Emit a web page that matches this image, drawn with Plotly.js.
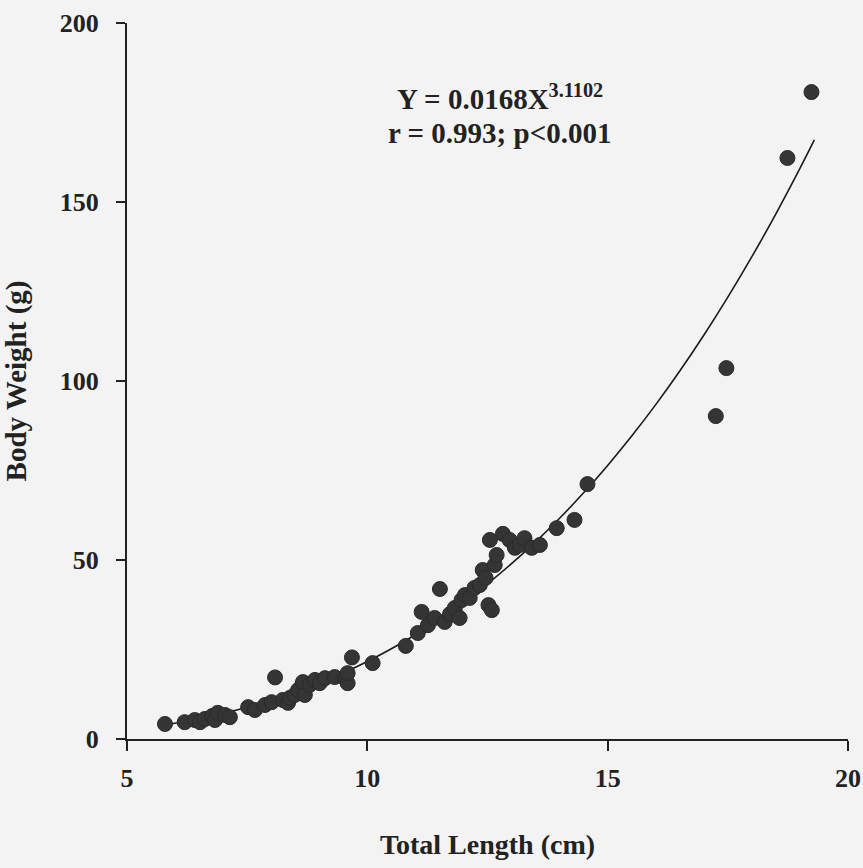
<!DOCTYPE html>
<html>
<head>
<meta charset="utf-8">
<script src="https://cdn.plot.ly/plotly-3.0.1.min.js"></script>
<style>html,body{margin:0;padding:0;background:#f3f3f3;}#chart{width:863px;height:868px;}</style>
</head>
<body>
<div id="chart"></div>
<script>
// Observed fish: total length (cm) and body weight (g)
const lengthCm = [5.79,6.2,6.41,6.52,6.62,6.77,6.83,6.89,7.04,7.14,7.52,7.66,7.87,8.01,8.08,8.24,8.35,8.39,8.49,8.56,8.66,8.70,8.80,8.91,9.01,9.12,9.32,9.53,9.59,9.59,9.68,10.11,10.80,11.05,11.13,11.26,11.40,11.51,11.61,11.72,11.82,11.92,11.96,12.03,12.13,12.23,12.34,12.40,12.46,12.52,12.59,12.55,12.65,12.69,12.82,12.96,13.07,13.17,13.27,13.42,13.59,13.94,14.31,14.58,17.25,17.47,18.74,19.24];
const bodyWeightG = [4.2,4.7,5.3,4.7,5.6,6.4,5.3,7.3,6.7,6.1,8.9,8.1,9.5,10.3,17.2,10.9,10.1,11.5,12.3,13.7,15.9,12.3,15.1,16.5,15.6,17.0,17.3,17.0,15.6,18.4,22.8,21.2,26.0,29.6,35.5,31.8,33.8,41.9,32.7,34.9,36.6,33.8,38.8,40.2,39.4,42.2,43.0,47.2,45.0,37.4,36.0,55.6,48.6,51.4,57.3,55.6,53.4,54.2,56.1,53.4,54.2,58.9,61.2,71.2,90.2,103.6,162.3,180.7];

// Fitted power curve Y = a * X^b, as printed on the chart
const fitA = 0.0168;
const fitB = 3.1102;
const fitX = [5.8,6.5,7,7.5,8,8.5,9,9.5,10,10.5,11,11.5,12,12.5,13,13.5,14,14.5,15,15.5,16,16.5,17,17.5,18,18.5,19,19.3];
const fitY = fitX.map(x => fitA * Math.pow(x, fitB));

const xTicks = [5,10,15,20];
const yTicks = [0,50,100,150,200];

const serif = 'Liberation Serif, Times New Roman, serif';
const ink = '#222222';

const traces = [
  {
    x: fitX, y: fitY, type: 'scatter', mode: 'lines',
    line: {color: '#1a1a1a', width: 1.6, shape: 'spline'},
    hoverinfo: 'skip', showlegend: false
  },
  {
    x: lengthCm, y: bodyWeightG, type: 'scatter', mode: 'markers',
    marker: {color: '#353535', size: 15, line: {color: '#2a2a2a', width: 1}},
    showlegend: false
  }
];

const layout = {
  width: 863, height: 868,
  paper_bgcolor: '#f3f3f3', plot_bgcolor: '#f3f3f3',
  margin: {l: 127, r: 15, t: 23, b: 129},
  font: {family: serif, color: ink},
  xaxis: {
    range: [5, 20], tickvals: xTicks, ticktext: xTicks.map(String),
    showgrid: false, zeroline: false, showline: true, linecolor: '#222', linewidth: 2,
    ticks: 'outside', ticklen: 10, tickwidth: 2, tickcolor: '#222',
    tickfont: {family: serif, size: 26, color: ink, weight: 'bold'},
    ticklabelstandoff: 5,
    title: {text: '<b>Total Length (cm)</b>', font: {family: serif, size: 28, color: ink}, standoff: 42},
    automargin: false
  },
  yaxis: {
    range: [0, 200], tickvals: yTicks, ticktext: yTicks.map(String),
    showgrid: false, zeroline: false, showline: true, linecolor: '#222', linewidth: 2,
    ticks: 'outside', ticklen: 9, tickwidth: 2, tickcolor: '#222',
    tickfont: {family: serif, size: 26, color: ink, weight: 'bold'},
    ticklabelstandoff: 12,
    title: {text: '<b>Body Weight (g)</b>', font: {family: serif, size: 29, color: ink}, standoff: 25},
    automargin: false
  },
  annotations: [
    {
      xref: 'paper', yref: 'paper', x: 0.517, y: 0.897, xanchor: 'center', yanchor: 'middle',
      text: '<b>Y = 0.0168X<sup>3.1102</sup></b>', showarrow: false,
      font: {family: serif, size: 29, color: ink}
    },
    {
      xref: 'paper', yref: 'paper', x: 0.517, y: 0.847, xanchor: 'center', yanchor: 'middle',
      text: '<b>r = 0.993; p<0.001</b>', showarrow: false,
      font: {family: serif, size: 29, color: ink}
    }
  ]
};

Plotly.newPlot('chart', traces, layout, {displayModeBar: false, staticPlot: true});
</script>
</body>
</html>
